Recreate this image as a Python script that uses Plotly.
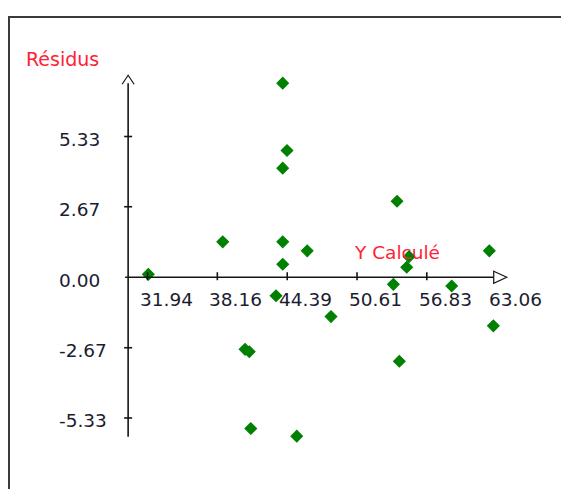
import plotly.graph_objects as go

# Regression residuals against fitted values
y_calcule = [32.01, 38.64, 43.99, 44.37, 43.99, 43.99, 43.99, 43.39, 46.17, 40.63, 41.01,
             41.14, 45.24, 48.29, 54.18, 53.85, 55.04, 55.25, 54.38, 59.05, 62.40, 62.76]
residus = [0.11, 1.34, 7.35, 4.80, 4.13, 1.34, 0.49, -0.70, 1.00, -2.73, -2.82,
           -5.73, -6.02, -1.49, 2.88, -0.27, 0.38, 0.78, -3.18, -0.33, 1.00, -1.84]

x_ticks = [31.94, 38.16, 44.39, 50.61, 56.83, 63.06]
y_ticks = [5.33, 2.67, 0.00, -2.67, -5.33]

W, H = 561, 489
X_RANGE = [18.79, 68.79]
Y_RANGE = [-8.02, 10.50]
PX_X = W / (X_RANGE[1] - X_RANGE[0])   # pixels per x unit
PX_Y = H / (Y_RANGE[1] - Y_RANGE[0])   # pixels per y unit


def dx(px):
    return px / PX_X


def dy(px):
    return px / PX_Y


AXIS_X = 30.21          # where the vertical axis crosses
Y_TOP, Y_BOT = 7.65, -6.04
X_LEFT = AXIS_X - dx(3)
X_END = x_ticks[-1]
INK = "#151515"
LABEL = "#1c1c30"
RED = "#ff2236"
FONT = "DejaVu Sans, Verdana, sans-serif"

fig = go.Figure()
fig.add_trace(go.Scatter(
    x=y_calcule, y=residus, mode="markers",
    marker=dict(symbol="diamond", size=8.8, color="#008000",
                line=dict(color="#008000", width=1.2)),
    hoverinfo="x+y", showlegend=False,
))

shapes = []
# outer frame (open on the right and bottom)
shapes.append(dict(type="rect", xref="paper", yref="paper",
                   x0=9 / W, x1=1.2, y0=-0.2, y1=1 - 17 / H,
                   line=dict(color="#3a3a3a", width=2), fillcolor="rgba(0,0,0,0)", layer="below"))
# axes
shapes.append(dict(type="line", xref="x", yref="y", x0=X_LEFT, x1=X_END - dx(2), y0=0, y1=0,
                   line=dict(color=INK, width=1.6)))
shapes.append(dict(type="line", xref="x", yref="y", x0=AXIS_X, x1=AXIS_X, y0=Y_BOT, y1=Y_TOP - dy(8),
                   line=dict(color=INK, width=1.6)))
# x-axis arrow head (open triangle)
shapes.append(dict(type="path", xref="x", yref="y",
                   path=f"M {X_END - dx(3)},{dy(6)} L {X_END + dx(10)},{0} L {X_END - dx(3)},{-dy(6)} Z",
                   line=dict(color=INK, width=1.2), fillcolor="white"))
# y-axis arrow head (open chevron)
shapes.append(dict(type="path", xref="x", yref="y",
                   path=f"M {AXIS_X - dx(6)},{Y_TOP - dy(9)} L {AXIS_X},{Y_TOP} L {AXIS_X + dx(6)},{Y_TOP - dy(9)}",
                   line=dict(color=INK, width=1.2)))
# tick marks
for t in x_ticks[:-1]:
    shapes.append(dict(type="line", xref="x", yref="y", x0=t, x1=t, y0=-dy(3), y1=dy(5),
                       line=dict(color=INK, width=1.6)))
for t in y_ticks:
    if t == 0:
        continue
    shapes.append(dict(type="line", xref="x", yref="y", x0=AXIS_X - dx(4), x1=AXIS_X + dx(4), y0=t, y1=t,
                       line=dict(color=INK, width=1.6)))

annotations = []
for t in x_ticks:
    annotations.append(dict(x=t, y=0, xref="x", yref="y", text=f"{t:.2f}", showarrow=False,
                            xanchor="left", yanchor="middle", xshift=-10, yshift=-22,
                            font=dict(family=FONT, size=18.5, color=LABEL)))
for t in y_ticks:
    annotations.append(dict(x=X_RANGE[0] + dx(57), y=t, xref="x", yref="y", text=f"{t:.2f}",
                            showarrow=False, xanchor="left", yanchor="middle", yshift=-3,
                            font=dict(family=FONT, size=18.5, color=LABEL)))
annotations.append(dict(x=X_RANGE[0] + dx(24), y=Y_TOP + dy(16), xref="x", yref="y", text="Résidus",
                        showarrow=False, xanchor="left", yanchor="middle",
                        font=dict(family=FONT, size=19, color=RED)))
annotations.append(dict(x=50.61 - dx(5), y=dy(25), xref="x", yref="y", text="Y Calculé",
                        showarrow=False, xanchor="left", yanchor="middle",
                        font=dict(family=FONT, size=18.5, color=RED)))

fig.update_layout(
    width=W, height=H,
    margin=dict(l=0, r=0, t=0, b=0),
    paper_bgcolor="white", plot_bgcolor="white",
    xaxis=dict(range=X_RANGE, visible=False, fixedrange=True),
    yaxis=dict(range=Y_RANGE, visible=False, fixedrange=True),
    shapes=shapes, annotations=annotations,
    showlegend=False,
)

fig.write_html("out.html", config={"displayModeBar": False})
